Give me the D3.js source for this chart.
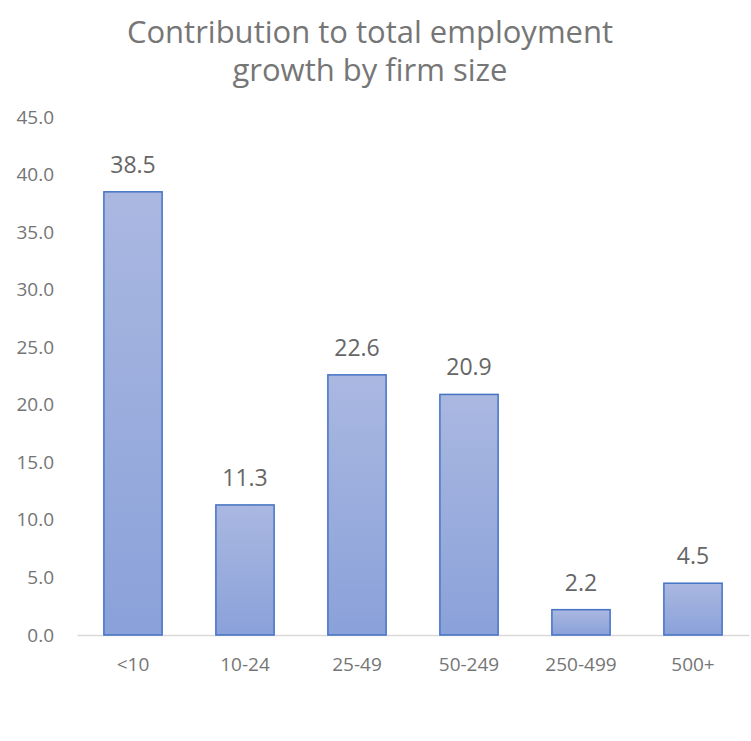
<!DOCTYPE html>
<html>
<head>
<meta charset="utf-8">
<script src="https://cdn.jsdelivr.net/npm/d3@7"></script>
<style>
  body { margin: 0; background: #fff; }
  text { font-family: "Open Sans", sans-serif; }
</style>
</head>
<body>
<div id="chart"></div>
<script>
// Chart data
var categories = ["<10", "10-24", "25-49", "50-249", "250-499", "500+"];
var values = [38.5, 11.3, 22.6, 20.9, 2.2, 4.5];
var yTicks = [0, 5, 10, 15, 20, 25, 30, 35, 40, 45];
var titleLines = ["Contribution to total employment", "growth by firm size"];

var width = 751;
var height = 741;
var margin = { top: 117, right: 2, bottom: 105, left: 77 };

var svg = d3.select("#chart")
    .append("svg")
    .attr("width", width)
    .attr("height", height);

// gradient for the bars
var grad = svg.append("defs").append("linearGradient")
    .attr("id", "barGrad")
    .attr("x1", 0).attr("y1", 0).attr("x2", 0).attr("y2", 1);
grad.append("stop").attr("offset", "0%").attr("stop-color", "#AAB8E1");
grad.append("stop").attr("offset", "100%").attr("stop-color", "#8AA1D9");

var x = d3.scaleBand()
    .domain(categories)
    .range([margin.left, width - margin.right])
    .paddingInner(0.48)
    .paddingOuter(0.24);

var y = d3.scaleLinear()
    .domain([0, 45])
    .range([height - margin.bottom - 1, margin.top]);

// title
svg.append("g")
    .selectAll("text")
    .data(titleLines)
    .enter()
    .append("text")
    .attr("x", 370)
    .attr("y", function (d, i) { return 43 + i * 38; })
    .attr("text-anchor", "middle")
    .attr("fill", "#767676")
    .style("font-size", "31px")
    .text(function (d) { return d; });

// y axis labels (no line, no ticks)
var yAxis = svg.append("g")
    .attr("transform", "translate(54,0)")
    .call(d3.axisLeft(y).tickValues(yTicks).tickFormat(d3.format(".1f")).tickSize(0).tickPadding(0));
yAxis.select(".domain").remove();
yAxis.selectAll("text")
    .attr("fill", "#757575")
    .style("font-size", "19px")
    .style("font-family", "'Open Sans', sans-serif");

// x axis
var xAxis = svg.append("g")
    .attr("transform", "translate(0," + y(0) + ")")
    .call(d3.axisBottom(x).tickSize(0).tickPadding(23));
xAxis.select(".domain")
    .attr("stroke", "#D9D9D9")
    .attr("stroke-width", 1.5);
xAxis.selectAll("text")
    .attr("fill", "#757575")
    .style("font-size", "19px")
    .style("font-family", "'Open Sans', sans-serif");

// bars
svg.selectAll("rect.bar")
    .data(values)
    .enter()
    .append("rect")
    .attr("class", "bar")
    .attr("x", function (d, i) { return x(categories[i]); })
    .attr("y", function (d) { return y(d); })
    .attr("width", x.bandwidth())
    .attr("height", function (d) { return y(0) - y(d); })
    .attr("fill", "url(#barGrad)")
    .attr("stroke", "#4472C4")
    .attr("stroke-width", 1.5);

// value labels
svg.selectAll("text.val")
    .data(values)
    .enter()
    .append("text")
    .attr("class", "val")
    .attr("x", function (d, i) { return x(categories[i]) + x.bandwidth() / 2; })
    .attr("y", function (d) { return y(d) - 19; })
    .attr("text-anchor", "middle")
    .attr("fill", "#666666")
    .style("font-size", "23px")
    .text(function (d) { return d.toFixed(1); });
</script>
</body>
</html>
